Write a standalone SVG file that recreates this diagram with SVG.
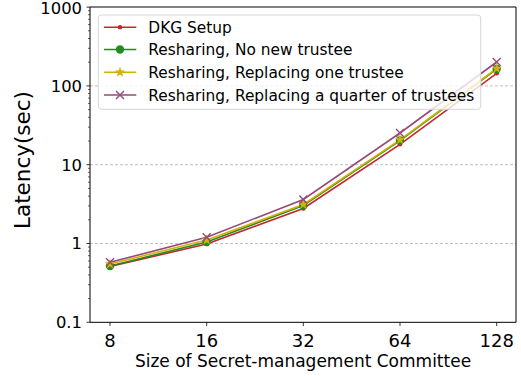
<svg xmlns="http://www.w3.org/2000/svg" xmlns:xlink="http://www.w3.org/1999/xlink" width="521" height="376" viewBox="0 0 521 376">
<style>
text{font-family:"DejaVu Sans","Liberation Sans",sans-serif;fill:#000}
.tick{font-size:16.4px}
.xtick{font-size:18px}
.grid{stroke:#b0b0b0;stroke-width:0.8;stroke-dasharray:3,2;fill:none}
.spine{stroke:#000;stroke-width:1;fill:none}
.s-red{stroke:#c1272d;stroke-width:1.6;fill:none}
.s-green{stroke:#228b22;stroke-width:1.6;fill:none}
.s-yellow{stroke:#d4b106;stroke-width:1.6;fill:none}
.s-purple{stroke:#944a7a;stroke-width:1.6;fill:none}
.leg{font-size:15.4px}
</style>
<defs>
<circle id="m-red" r="2.3" fill="#c1272d"/>
<circle id="m-green" r="4.2" fill="#228b22"/>
<path id="m-yellow" d="M0,-5.5 L1.3,-1.8 L5.2,-1.7 L2.1,0.7 L3.2,4.5 L0,2.2 L-3.2,4.5 L-2.1,0.7 L-5.2,-1.7 L-1.3,-1.8 Z" fill="#d4b106"/>
<path id="m-purple" d="M-4,-4 L4,4 M-4,4 L4,-4" stroke="#944a7a" stroke-width="1.4" fill="none"/>
</defs>
<rect width="521" height="376" fill="#fff"/>
<g id="grid">
<path class="grid" d="M90,243.5H516M90,164.7H516M90,85.9H516"/>
</g>
<g id="axes">
<path class="spine" d="M90,7H516V322.3H90Z"/>
<path stroke="#000" stroke-width="0.8" d="M86.5,322.3H90M86.5,243.5H90M86.5,164.7H90M86.5,85.9H90M86.5,7.1H90"/>
<path stroke="#000" stroke-width="0.6" d="M88,298.6h2M88,284.7h2M88,274.9h2M88,267.2h2M88,261h2M88,255.7h2M88,251.1h2M88,247.1h2M88,219.8h2M88,205.9h2M88,196.1h2M88,188.4h2M88,182.2h2M88,176.9h2M88,172.3h2M88,168.3h2M88,141h2M88,127.1h2M88,117.3h2M88,109.6h2M88,103.4h2M88,98.1h2M88,93.5h2M88,89.5h2M88,62.2h2M88,48.3h2M88,38.5h2M88,30.8h2M88,24.6h2M88,19.3h2M88,14.7h2M88,10.7h2"/>
<path stroke="#000" stroke-width="0.8" d="M110,322.3V326M206.7,322.3V326M303.3,322.3V326M400,322.3V326M496.7,322.3V326"/>
<g class="tick" text-anchor="end">
<text x="82" y="13.5">1000</text>
<text x="82" y="91.8">100</text>
<text x="82" y="170.6">10</text>
<text x="82" y="249.4">1</text>
<text x="82" y="328.2">0.1</text>
</g>
<g class="xtick" text-anchor="middle">
<text x="110" y="347">8</text>
<text x="206.7" y="347">16</text>
<text x="303.3" y="347">32</text>
<text x="400" y="347">64</text>
<text x="496.7" y="347">128</text>
</g>
<text x="303" y="367" font-size="17" text-anchor="middle">Size of Secret-management Committee</text>
<text transform="translate(30,160) rotate(-90)" font-size="21.5" text-anchor="middle">Latency(sec)</text>
</g>
<g id="connectors">
<polyline class="s-red" points="110,266.5 206.7,244 303.3,208.5 400,144.3 496.7,73.3"/>
<polyline class="s-green" points="110,266 206.7,242 303.3,205.5 400,140.5 496.7,69"/>
<polyline class="s-yellow" points="110,264 206.7,240 303.3,204.5 400,139.8 496.7,68.5"/>
<polyline class="s-purple" points="110,262.3 206.7,237.3 303.3,199.5 400,133 496.7,62"/>
</g>
<g id="series-dkg">
<use xlink:href="#m-red" x="110" y="266.5"/><use xlink:href="#m-red" x="206.7" y="244"/><use xlink:href="#m-red" x="303.3" y="208.5"/><use xlink:href="#m-red" x="400" y="144.3"/><use xlink:href="#m-red" x="496.7" y="73.3"/>
</g>
<g id="series-nonew">
<use xlink:href="#m-green" x="110" y="266"/><use xlink:href="#m-green" x="206.7" y="242"/><use xlink:href="#m-green" x="303.3" y="205.5"/><use xlink:href="#m-green" x="400" y="140.5"/><use xlink:href="#m-green" x="496.7" y="69"/>
</g>
<g id="series-one">
<use xlink:href="#m-yellow" x="110" y="264"/><use xlink:href="#m-yellow" x="206.7" y="240"/><use xlink:href="#m-yellow" x="303.3" y="204.5"/><use xlink:href="#m-yellow" x="400" y="139.8"/><use xlink:href="#m-yellow" x="496.7" y="68.5"/>
</g>
<g id="series-quarter">
<use xlink:href="#m-purple" x="110" y="262.3"/><use xlink:href="#m-purple" x="206.7" y="237.3"/><use xlink:href="#m-purple" x="303.3" y="199.5"/><use xlink:href="#m-purple" x="400" y="133"/><use xlink:href="#m-purple" x="496.7" y="62"/>
</g>
<g id="legend">
<rect x="98.3" y="15" width="382.4" height="94.3" rx="3" fill="#fff" fill-opacity="0.8" stroke="#d6d6d6" stroke-width="1"/>
<path class="s-red" d="M104,27.3H136.3"/><use xlink:href="#m-red" x="120" y="27.3"/>
<path class="s-green" d="M104,49.5H136.3"/><use xlink:href="#m-green" x="120" y="49.5"/>
<path class="s-yellow" d="M104,72.3H136.3"/><use xlink:href="#m-yellow" x="120" y="72.3"/>
<path class="s-purple" d="M104,95H136.3"/><use xlink:href="#m-purple" x="120" y="95"/>
<g class="leg">
<text x="148.3" y="33">DKG Setup</text>
<text x="148.3" y="55.3">Resharing, No new trustee</text>
<text x="148.3" y="78">Resharing, Replacing one trustee</text>
<text x="148.3" y="100.7">Resharing, Replacing a quarter of trustees</text>
</g>
</g>
</svg>
